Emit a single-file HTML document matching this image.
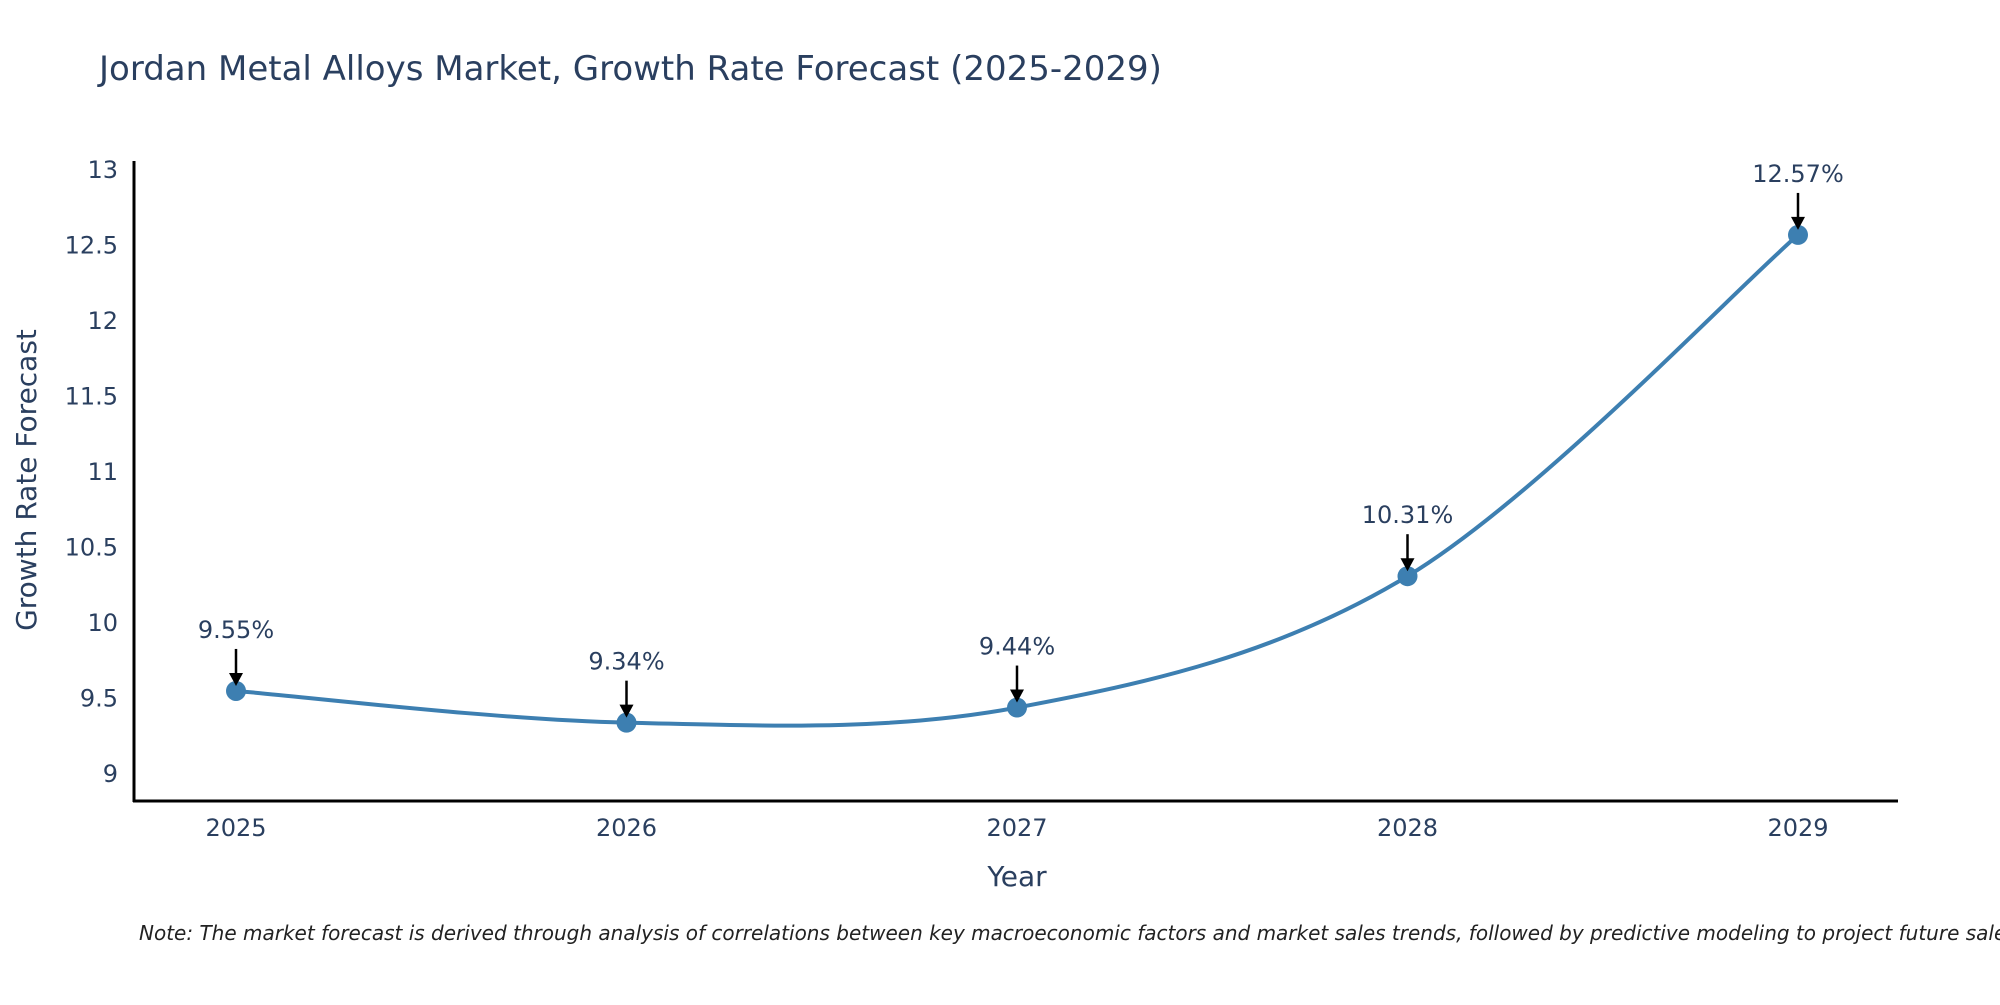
<!DOCTYPE html>
<html><head><meta charset="utf-8"><style>
body{margin:0;background:#fff;}
svg text{font-family:"DejaVu Sans","Liberation Sans",sans-serif;fill:#2a3f5f;}
</style></head><body>
<svg id="chart" width="2000" height="1000" xmlns="http://www.w3.org/2000/svg">
<text x="99" y="80" font-size="34">Jordan Metal Alloys Market, Growth Rate Forecast (2025-2029)</text>
<g id="axes"></g>
<g id="series"></g>
<text transform="translate(36,480) rotate(-90)" text-anchor="middle" font-size="28">Growth Rate Forecast</text>
<text x="1017" y="886" text-anchor="middle" font-size="28">Year</text>
<text x="139" y="940" font-size="20" font-style="italic" style="fill:#222">Note: The market forecast is derived through analysis of correlations between key macroeconomic factors and market sales trends, followed by predictive modeling to project future sales.</text>
</svg>
<script>
const years=["2025","2026","2027","2028","2029"];
const values=[9.55,9.34,9.44,10.31,12.57];
const labels=["9.55%","9.34%","9.44%","10.31%","12.57%"];
const yTicks=[9,9.5,10,10.5,11,11.5,12,12.5,13];
const yTickLabels=["9","9.5","10","10.5","11","11.5","12","12.5","13"];
const NS="http://www.w3.org/2000/svg";
const x0=236,dx=390.5;
function xs(i){return x0+i*dx;}
function ys(v){return 774-(v-9)*151;}
function mk(tag,attrs,parent){const e=document.createElementNS(NS,tag);for(const k in attrs)e.setAttribute(k,attrs[k]);parent.appendChild(e);return e;}
const axes=document.getElementById('axes'),ser=document.getElementById('series');
let a=mk('line',{x1:134,y1:161,x2:134,y2:802,stroke:'#000','stroke-width':3},axes);


a=mk('line',{x1:133,y1:801,x2:1898,y2:801,stroke:'#000','stroke-width':3},axes);


yTicks.forEach((t,i)=>{const e=mk('text',{x:118,y:ys(t)+8,'text-anchor':'end','font-size':24},axes);e.textContent=yTickLabels[i];

});
years.forEach((y,i)=>{const e=mk('text',{x:xs(i),y:836,'text-anchor':'middle','font-size':24},axes);e.textContent=y;

});
const P=values.map((v,i)=>[xs(i),ys(v)]);
let d='M'+P[0][0]+','+P[0][1];
for(let i=0;i<P.length-1;i++){const p0=P[Math.max(0,i-1)],p1=P[i],p2=P[i+1],p3=P[Math.min(P.length-1,i+2)];const s=1/6;
d+=` C${p1[0]+(p2[0]-p0[0])*s},${p1[1]+(p2[1]-p0[1])*s} ${p2[0]-(p3[0]-p1[0])*s},${p2[1]-(p3[1]-p1[1])*s} ${p2[0]},${p2[1]}`;}
const line=mk('path',{d:d,fill:'none',stroke:'#3d7fb1','stroke-width':4},ser);


P.forEach((p,i)=>{const c=mk('circle',{cx:p[0],cy:p[1],r:10,fill:'#3d7fb1'},ser);


const l=mk('line',{x1:p[0],y1:p[1]-42,x2:p[0],y2:p[1]-16,stroke:'#000','stroke-width':2.5},ser);


const h=mk('polygon',{points:`${p[0]-7},${p[1]-18} ${p[0]+7},${p[1]-18} ${p[0]},${p[1]-5}`,fill:'#000'},ser);


const t=mk('text',{x:p[0],y:p[1]-53,'text-anchor':'middle','font-size':24},ser);t.textContent=labels[i];

});
</script>
</body></html>
